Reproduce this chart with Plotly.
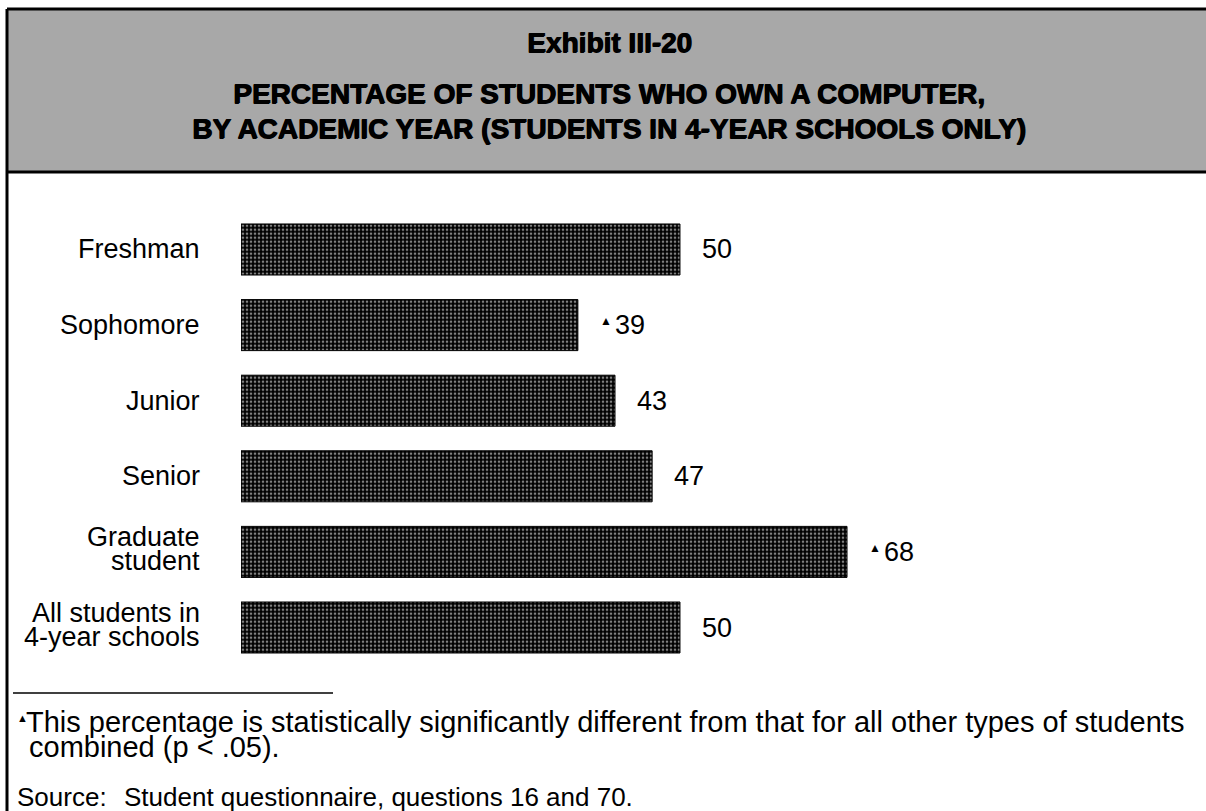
import plotly.graph_objects as go

# --- chart data -------------------------------------------------------------
categories = [
    "Freshman",
    "Sophomore",
    "Junior",
    "Senior",
    "Graduate<br>student",
    "All students in<br>4-year schools",
]
percent_own = [50, 39, 43, 47, 68, 50]
significant = [False, True, False, False, True, False]

title_lines = [
    "Exhibit III-20",
    "PERCENTAGE OF STUDENTS WHO OWN A COMPUTER,",
    "BY ACADEMIC YEAR (STUDENTS IN 4-YEAR SCHOOLS ONLY)",
]
footnote_lines = [
    "This percentage is statistically significantly different from that for all other types of students",
    "combined (p < .05).",
]
source_label = "Source:"
source_text = "Student questionnaire, questions 16 and 70."

# --- page geometry helpers (pixel -> paper) ----------------------------------
W, H = 1206, 811
FONT = "Liberation Sans, Arial, Helvetica, sans-serif"


def px(x):
    return x / W


def py(y):
    return 1 - y / H


fig = go.Figure(
    go.Bar(
        x=percent_own,
        y=categories,
        orientation="h",
        width=0.675,
        marker=dict(
            color="black",
            line=dict(color="black", width=1),
            pattern=dict(shape=".", fgcolor="white", bgcolor="black",
                         size=4, solidity=0.35),
        ),
        hoverinfo="skip",
    )
)

fig.update_layout(
    width=W,
    height=H,
    margin=dict(l=0, r=0, t=0, b=0),
    paper_bgcolor="white",
    plot_bgcolor="white",
    showlegend=False,
    xaxis=dict(domain=[px(241), px(1144)], range=[2.7, 100], visible=False),
    yaxis=dict(
        domain=[py(665.3), py(211.7)],
        range=[len(categories) - 0.5, -0.5],
        categoryorder="array",
        categoryarray=categories,
        visible=False,
    ),
)

annotations = []

# category labels, right-aligned, tight line spacing for two-line labels
LINE_GAP = 24
for cat in categories:
    parts = cat.split("<br>")
    n = len(parts)
    for i, part in enumerate(parts):
        shift = ((n - 1) / 2 - i) * LINE_GAP + (3 if n > 1 else 0)
        annotations.append(dict(
            x=px(202), xref="paper", xanchor="right",
            y=cat, yref="y", yanchor="middle", yshift=shift,
            text=part, showarrow=False,
            font=dict(family=FONT, size=27, color="black"),
        ))

# value labels, with a small triangle for significant differences
for cat, val, sig in zip(categories, percent_own, significant):
    if sig:
        annotations.append(dict(
            x=val, xref="x", xanchor="left", xshift=20,
            y=cat, yref="y", yanchor="middle", yshift=4,
            text="▲", showarrow=False,
            font=dict(family=FONT, size=12, color="black"),
        ))
    annotations.append(dict(
        x=val, xref="x", xanchor="left", xshift=35 if sig else 20,
        y=cat, yref="y", yanchor="middle",
        text=str(val), showarrow=False,
        font=dict(family=FONT, size=27, color="black"),
    ))

# header titles in a heavy face (bold plus a thin shadow to thicken strokes)
for text, yc in zip(title_lines, [43, 93, 129]):
    annotations.append(dict(
        x=px(609), xref="paper", xanchor="center",
        y=py(yc), yref="paper", yanchor="middle",
        text=f"<b>{text}</b>", showarrow=False,
        font=dict(family=FONT, size=28, color="black",
                  shadow="1px 0px 0px black, 0px 0.6px 0px black"),
    ))

# footnotes
annotations.append(dict(
    x=px(15), xref="paper", xanchor="left",
    y=py(718), yref="paper", yanchor="middle",
    text="▲", showarrow=False,
    font=dict(family=FONT, size=11, color="black"),
))
annotations.append(dict(
    x=px(24), xref="paper", xanchor="left",
    y=py(722), yref="paper", yanchor="middle",
    text=footnote_lines[0], showarrow=False,
    font=dict(family=FONT, size=29, color="black"),
))
annotations.append(dict(
    x=px(27), xref="paper", xanchor="left",
    y=py(747), yref="paper", yanchor="middle",
    text=footnote_lines[1], showarrow=False,
    font=dict(family=FONT, size=29, color="black"),
))
annotations.append(dict(
    x=px(15), xref="paper", xanchor="left",
    y=py(797), yref="paper", yanchor="middle",
    text=source_label, showarrow=False,
    font=dict(family=FONT, size=26, color="black"),
))
annotations.append(dict(
    x=px(122), xref="paper", xanchor="left",
    y=py(797), yref="paper", yanchor="middle",
    text=source_text, showarrow=False,
    font=dict(family=FONT, size=26, color="black"),
))

fig.update_layout(annotations=annotations)

# frame, shaded header band and footnote rule
shapes = [
    dict(type="rect", xref="paper", yref="paper",
         x0=px(7), x1=1, y0=py(172), y1=py(9),
         fillcolor="#a8a8a8", line=dict(width=0), layer="below"),
    dict(type="line", xref="paper", yref="paper",
         x0=px(7), x1=1, y0=py(9), y1=py(9),
         line=dict(color="black", width=3)),
    dict(type="line", xref="paper", yref="paper",
         x0=px(7), x1=1, y0=py(172), y1=py(172),
         line=dict(color="black", width=3)),
    dict(type="line", xref="paper", yref="paper",
         x0=px(7), x1=px(7), y0=py(9), y1=0,
         line=dict(color="black", width=3)),
    dict(type="line", xref="paper", yref="paper",
         x0=px(13), x1=px(333), y0=py(693), y1=py(693),
         line=dict(color="black", width=1.5)),
]
fig.update_layout(shapes=shapes)

fig.write_html("out.html")
